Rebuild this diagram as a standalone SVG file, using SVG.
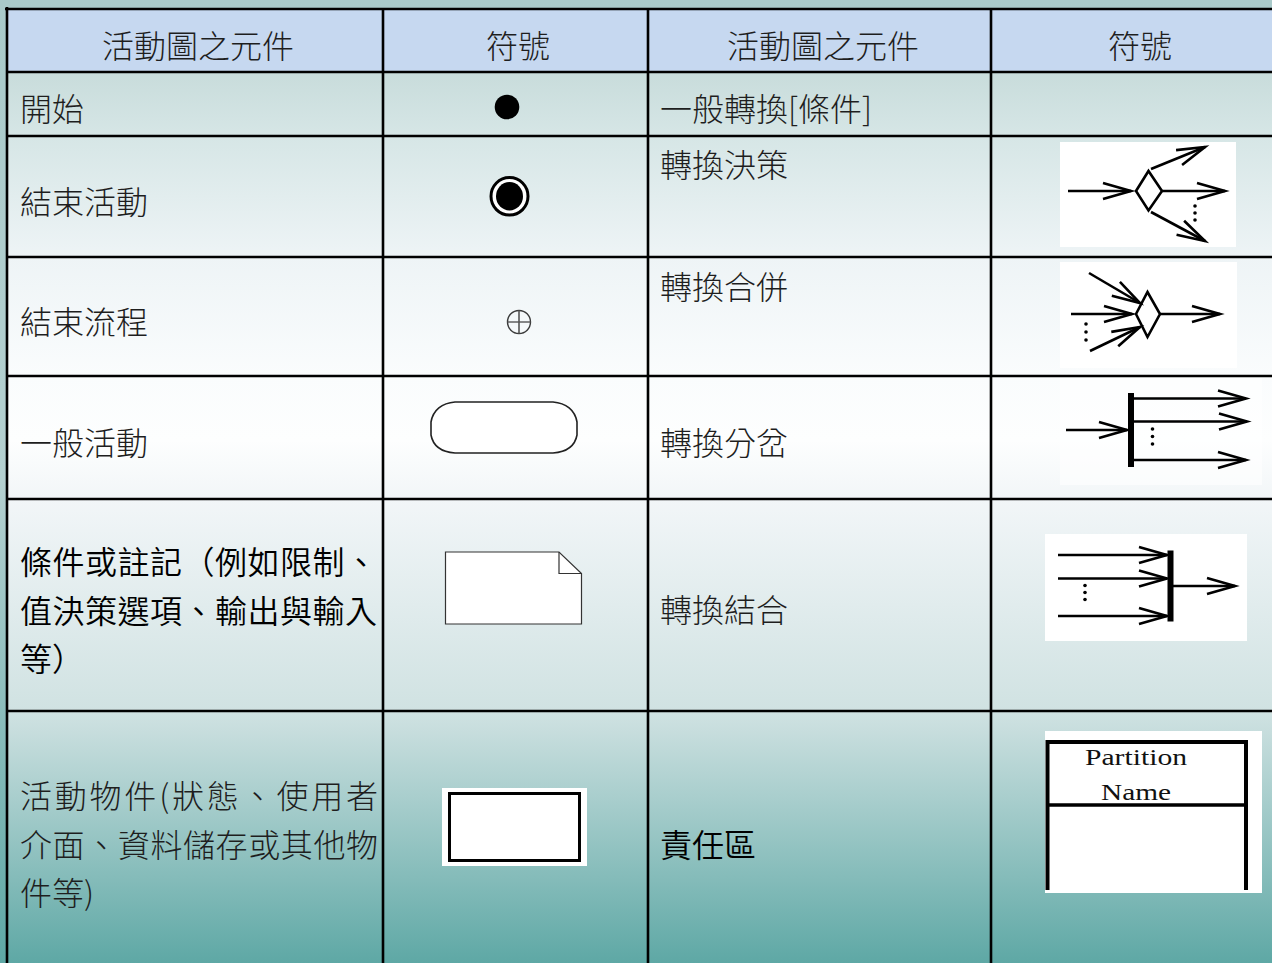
<svg xmlns="http://www.w3.org/2000/svg" width="1272" height="963" viewBox="0 0 1272 963">
<defs>
<linearGradient id="page" gradientUnits="userSpaceOnUse" x1="0" y1="0" x2="0" y2="963">
<stop offset="0" stop-color="#a9caca"/>
<stop offset="0.5" stop-color="#b4d0d0"/>
<stop offset="1" stop-color="#5ea8a5"/>
</linearGradient>
<linearGradient id="body" gradientUnits="userSpaceOnUse" x1="0" y1="72" x2="0" y2="963">
<stop offset="0" stop-color="#c8dcdb"/>
<stop offset="0.072" stop-color="#d6e6e6"/>
<stop offset="0.208" stop-color="#eef4f6"/>
<stop offset="0.341" stop-color="#fafcfd"/>
<stop offset="0.413" stop-color="#fdfefe"/>
<stop offset="0.479" stop-color="#f2f6f8"/>
<stop offset="0.717" stop-color="#d0e2e2"/>
<stop offset="1" stop-color="#5ea8a5"/>
</linearGradient>
<marker id="ah" markerUnits="userSpaceOnUse" viewBox="-32 -12 36 24" refX="0" refY="0" markerWidth="36" markerHeight="24" orient="auto" overflow="visible">
<path d="M-28,-8 L0,0 L-28,8" fill="none" stroke="#000" stroke-width="2.6"/>
</marker>
</defs>
<style>
.t{font-family:"Noto Sans CJK TC","Noto Sans CJK SC",sans-serif;font-size:32px;fill:#1e1e1e;font-weight:300}
.b{font-weight:350;fill:#000}
.c{text-anchor:middle}
.g{stroke:#000;stroke-width:2.6;fill:none}
.s{stroke:#000;stroke-width:2.6;fill:none}
.a{marker-end:url(#ah)}
.dot{fill:#000}
.pn{font-family:"Liberation Serif",serif;font-size:24px;fill:#111;text-anchor:middle}
</style>
<rect x="0" y="0" width="1272" height="963" fill="url(#page)"/>
<rect x="7" y="9" width="1265" height="63" fill="#c6d8f0"/>
<rect x="7" y="72" width="1265" height="891" fill="url(#body)"/>

<g id="grid">
<line class="g" x1="5" y1="9" x2="1272" y2="9" stroke-width="4"/>
<line class="g" x1="7" y1="7" x2="7" y2="963" stroke-width="4"/>
<line class="g" x1="7" y1="72" x2="1272" y2="72" stroke="#1b1f2a" stroke-width="2.2"/>
<line class="g" x1="7" y1="136" x2="1272" y2="136"/>
<line class="g" x1="7" y1="257" x2="1272" y2="257"/>
<line class="g" x1="7" y1="376" x2="1272" y2="376"/>
<line class="g" x1="7" y1="499" x2="1272" y2="499"/>
<line class="g" x1="7" y1="711" x2="1272" y2="711"/>
<line class="g" x1="383" y1="9" x2="383" y2="963"/>
<line class="g" x1="648" y1="9" x2="648" y2="963"/>
<line class="g" x1="991" y1="9" x2="991" y2="963"/>
</g>

<g id="header">
<text class="t c" x="198" y="58">活動圖之元件</text>
<text class="t c" x="518" y="58">符號</text>
<text class="t c" x="823" y="58">活動圖之元件</text>
<text class="t c" x="1140" y="58">符號</text>
</g>

<g id="row-start">
<text class="t" x="20" y="121">開始</text>
<ellipse cx="507" cy="107" rx="12.3" ry="12.3" fill="#000"/>
</g>

<g id="row-end-activity">
<text class="t" x="20" y="214">結束活動</text>
<ellipse cx="509.5" cy="196.3" rx="18.5" ry="18.8" fill="#fff" stroke="#000" stroke-width="3"/>
<ellipse cx="509.5" cy="196.3" rx="13.5" ry="14.2" fill="#000"/>
</g>

<g id="row-end-flow">
<text class="t" x="20" y="334">結束流程</text>
<circle cx="519" cy="322" r="11.5" fill="none" stroke="#3a3a3a" stroke-width="1.4"/>
<line x1="519" y1="310.5" x2="519" y2="333.5" stroke="#555" stroke-width="1.6"/>
<line x1="507.5" y1="322" x2="530.5" y2="322" stroke="#555" stroke-width="1.4"/>
</g>

<g id="row-activity">
<text class="t" x="20" y="455">一般活動</text>
<path d="M455,402 L553,402 C566,403 575,410 577,422 L577,435 C575,446 566,452 553,453 L455,453 C442,452 433,446 431,435 L431,422 C433,410 442,403 455,402 Z" fill="#fff" stroke="#222" stroke-width="1.6"/>
</g>

<g id="row-note">
<text class="t b" x="20" y="574" textLength="357" lengthAdjust="spacing">條件或註記（例如限制、</text>
<text class="t b" x="20" y="623" textLength="357" lengthAdjust="spacing">值決策選項、輸出與輸入</text>
<text class="t b" x="20" y="671">等）</text>
<path d="M445.5,552 L559,552 L581.5,573.5 L581.5,624 L445.5,624 Z" fill="#fff" stroke="#333" stroke-width="1.2"/>
<path d="M559,552 L559,573.5 L581.5,573.5" fill="none" stroke="#333" stroke-width="1.2"/>
</g>

<g id="row-object">
<text class="t" x="20" y="808" textLength="358" lengthAdjust="spacing">活動物件(狀態、使用者</text>
<text class="t" x="20" y="857" textLength="358" lengthAdjust="spacing">介面、資料儲存或其他物</text>
<text class="t" x="20" y="905">件等)</text>
<rect x="442" y="788" width="145" height="78" fill="#fff"/>
<rect x="449.5" y="793.5" width="130" height="67" fill="#fff" stroke="#000" stroke-width="3"/>
</g>

<g id="row-transition">
<text class="t" x="660" y="121">一般轉換[條件]</text>
</g>

<g id="row-decision">
<text class="t" x="660" y="177">轉換決策</text>
<rect x="1060" y="142" width="176" height="105" fill="#fff"/>
<line class="s a" x1="1068" y1="191" x2="1131" y2="191"/>
<path d="M1136,191 L1148.5,171 L1162,191 L1148.5,210.5 Z" fill="#fff" stroke="#000" stroke-width="2.6"/>
<line class="s a" x1="1162" y1="191" x2="1225" y2="191"/>
<line class="s a" x1="1151" y1="169" x2="1205" y2="147"/>
<line class="s a" x1="1151" y1="212" x2="1205" y2="241"/>
<circle class="dot" cx="1195" cy="206" r="1.8"/>
<circle class="dot" cx="1195" cy="213" r="1.8"/>
<circle class="dot" cx="1195" cy="220" r="1.8"/>
</g>

<g id="row-merge">
<text class="t" x="660" y="299">轉換合併</text>
<rect x="1060" y="262" width="177" height="106" fill="#fff"/>
<path d="M1136,314 L1147.5,292 L1160,314 L1147.5,337 Z" fill="#fff" stroke="#000" stroke-width="2.6"/>
<line class="s a" x1="1071" y1="314" x2="1132" y2="314"/>
<line class="s a" x1="1089" y1="273" x2="1140" y2="303"/>
<line class="s a" x1="1090" y1="351" x2="1140" y2="327"/>
<line class="s a" x1="1160" y1="314" x2="1220" y2="314"/>
<circle class="dot" cx="1086" cy="324" r="1.8"/>
<circle class="dot" cx="1086" cy="332" r="1.8"/>
<circle class="dot" cx="1086" cy="340" r="1.8"/>
</g>

<g id="row-fork">
<text class="t" x="660" y="455">轉換分岔</text>
<rect x="1060" y="378" width="202" height="107" fill="#fff" opacity="0.6"/>
<line class="s a" x1="1066" y1="430" x2="1127" y2="430"/>
<rect x="1128" y="393" width="6" height="74" fill="#000"/>
<line class="s a" x1="1134" y1="398.5" x2="1246" y2="398.5"/>
<line class="s a" x1="1134" y1="421.5" x2="1247" y2="421.5"/>
<line class="s a" x1="1134" y1="460" x2="1246" y2="460"/>
<circle class="dot" cx="1152.5" cy="429" r="1.8"/>
<circle class="dot" cx="1152.5" cy="436.5" r="1.8"/>
<circle class="dot" cx="1152.5" cy="444" r="1.8"/>
</g>

<g id="row-join">
<text class="t" x="660" y="622">轉換結合</text>
<rect x="1045" y="534" width="202" height="107" fill="#fff"/>
<line class="s a" x1="1058" y1="555" x2="1167" y2="555"/>
<line class="s a" x1="1058" y1="578.5" x2="1167" y2="578.5"/>
<line class="s a" x1="1058" y1="616" x2="1167" y2="616"/>
<rect x="1167.5" y="550.5" width="6" height="71" fill="#000"/>
<line class="s a" x1="1173" y1="586" x2="1235" y2="586"/>
<circle class="dot" cx="1085" cy="585.5" r="1.8"/>
<circle class="dot" cx="1085" cy="592.5" r="1.8"/>
<circle class="dot" cx="1085" cy="599.5" r="1.8"/>
</g>

<g id="row-partition">
<text class="t b" x="660" y="857">責任區</text>
<rect x="1045" y="731" width="217" height="162" fill="#fff"/>
<path d="M1047.5,890 L1047.5,742 L1246,742 L1246,890" fill="none" stroke="#000" stroke-width="4"/>
<line x1="1047.5" y1="805" x2="1246" y2="805" stroke="#000" stroke-width="3.5"/>
<text class="pn" x="1136" y="765" textLength="102" lengthAdjust="spacingAndGlyphs">Partition</text>
<text class="pn" x="1136" y="800" textLength="70" lengthAdjust="spacingAndGlyphs">Name</text>
</g>
</svg>
